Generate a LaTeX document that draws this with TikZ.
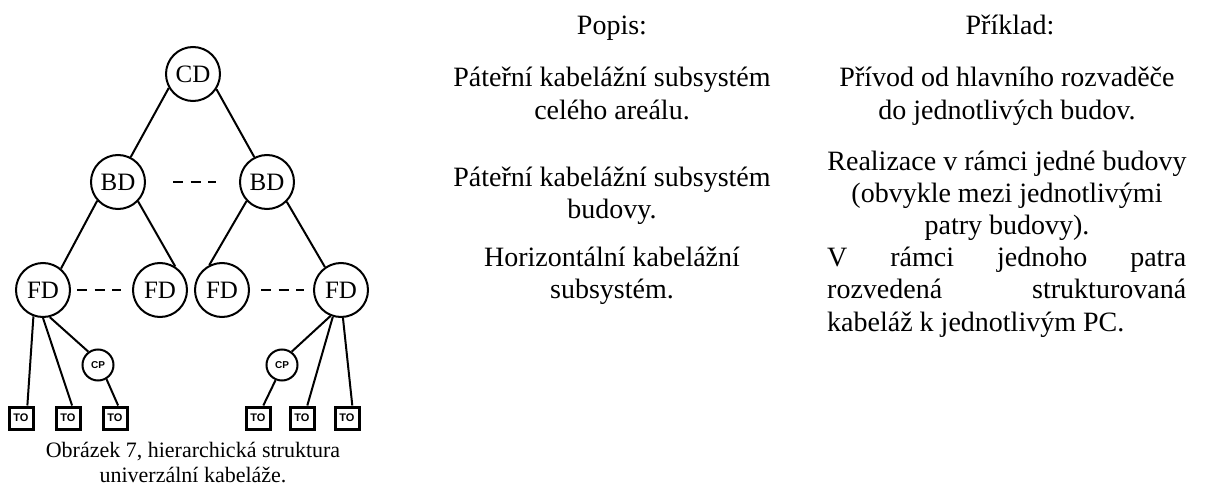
\documentclass[tikz,border=0pt]{standalone}
\usepackage{fontspec}
\setmainfont{Liberation Serif}
\setsansfont{Liberation Sans}
\usetikzlibrary{positioning}
\hyphenpenalty=10000
\exhyphenpenalty=10000
\tolerance=10000
\tikzset{
	distnode/.style={
			circle,
			draw=black,
			line width=2pt,
			minimum size=54pt,
			inner sep=0pt,
			font=\fontsize{25}{25}\selectfont
		},
	cpnode/.style={
			circle,
			draw=black,
			line width=2pt,
			minimum size=31pt,
			inner sep=0pt,
			font=\sffamily\bfseries\fontsize{10}{10}\selectfont
		},
	outletnode/.style={
			rectangle,
			draw=black,
			line width=3pt,
			minimum width=24pt,
			minimum height=22pt,
			inner sep=0pt,
			font=\sffamily\bfseries\fontsize{11}{11}\selectfont
		},
	cable/.style={
			line width=2pt
		},
	gapline/.style={
			line width=2.5pt,
			dash pattern=on 10pt off 7.5pt
		},
	celltext/.style={
			anchor=base,
			align=center,
			inner sep=0pt,
			font=\fontsize{28}{32.2}\selectfont
		},
	captiontext/.style={
			anchor=base,
			align=center,
			inner sep=0pt,
			font=\fontsize{22}{24.5}\selectfont
		}
}

\begin{document}
\begin{tikzpicture}[x=1pt, y=-1pt]
\useasboundingbox (0,0) rectangle (1208,495);
% tree of distributors
\node[distnode] (cd) at (193,74) {CD};
\node[distnode] (bd1) at (118,182) {BD};
\node[distnode] (bd2) at (267,182) {BD};
\node[distnode] (fd1) at (43,290) {FD};
\node[distnode] (fd2) at (160,290) {FD};
\node[distnode] (fd3) at (222,290) {FD};
\node[distnode] (fd4) at (341,290) {FD};
\node[cpnode] (cp1) at (98,365) {CP};
\node[cpnode] (cp2) at (282,365) {CP};
\node[outletnode] (to1) at (21,418) {TO};
\node[outletnode] (to2) at (68,418) {TO};
\node[outletnode] (to3) at (115,418) {TO};
\node[outletnode] (to4) at (258,418) {TO};
\node[outletnode] (to5) at (302,418) {TO};
\node[outletnode] (to6) at (347,418) {TO};

\draw[cable] (cd.210) -- (bd1.63);
\draw[cable] (cd.327) -- (bd2.117);

\draw[cable] (bd1.222) -- (fd1.50);
\draw[cable] (bd1.316) -- (fd2.57);
\draw[cable] (bd2.223) -- (fd3.117);
\draw[cable] (bd2.315) -- (fd4.125);

\draw[cable] (fd1.250) -- (to1.63);
\draw[cable] (fd1.270) -- (to2.72);
\draw[cable] (fd1.284) -- (cp1.126);
\draw[cable] (cp1.301) -- (to3.76);
\draw[cable] (fd4.248) -- (cp2.54);
\draw[cable] (cp2.247) -- (to4.67);
\draw[cable] (fd4.253) -- (to5.67);
\draw[cable] (fd4.274) -- (to6.67);

% the "- - -" gaps
\draw[gapline, shorten <=27pt, shorten >=23pt] (bd1.east) -- (bd2.west);
\draw[gapline, shorten <=6pt, shorten >=11pt] (fd1.east) -- (fd2.west);
\draw[gapline, shorten <=11pt, shorten >=9pt] (fd3.east) -- (fd4.west);

% base = last line
\node[captiontext] (cap) at (193,482) {Obrázek 7, hierarchická struktura\\univerzální kabeláže.};

% table on the right
\node[celltext] (h1) at (612,35) {Popis:};
\node[celltext] (h2) at (1010,35) {Příklad:};
\node[celltext] (d1) at (612,119.2) {Páteřní kabelážní subsystém\\celého areálu.};
\node[celltext] (e1) at (1007,119.2) {Přívod od hlavního rozvaděče\\do jednotlivých budov.};
\node[celltext] (d2) at (612,218.2) {Páteřní kabelážní subsystém\\budovy.};
\node[celltext] (e2) at (1007,234.4) {Realizace v rámci jedné budovy\\(obvykle mezi jednotlivými\\patry budovy).};
\node[celltext] (d3) at (612,298.8) {Horizontální kabelážní\\subsystém.};
% text width node: base = first line
\node[celltext, anchor=base west, align=justify, text width=359pt] (e3) at (827,266.6)
  {V rámci jednoho patra rozvedená strukturovaná kabeláž k jednotlivým PC.};
\end{tikzpicture}
\end{document}
